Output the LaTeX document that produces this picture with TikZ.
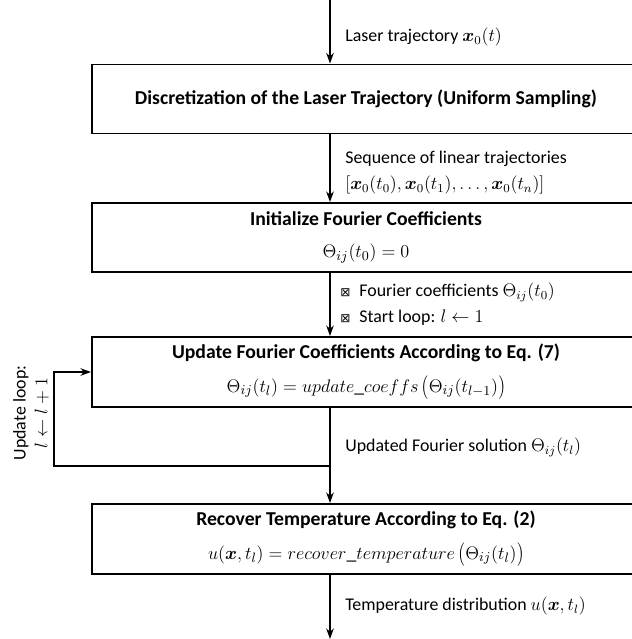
\documentclass[tikz,border=0pt]{standalone}
\usepackage{amsmath,bm,graphicx}
\usepackage{fontspec}
\setmainfont{Carlito}
\newfontfamily\symfont{DejaVu Sans}
\usetikzlibrary{arrows.meta, positioning, calc}
\newcommand{\px}{0.66pt}
\newcommand{\lpar}{\mathopen{\raisebox{-1.2pt}{\scalebox{1.05}[1.3]{$($}}}}
\newcommand{\rpar}{\mathclose{\raisebox{-1.2pt}{\scalebox{1.05}[1.3]{$)$}}}}

\begin{document}
\begin{tikzpicture}[x=0.66pt, y=-0.66pt,
    font=\fontsize{11.8}{14.5}\selectfont,
    arr/.style={line width=1pt, -{Stealth[length=7pt,width=5pt]}},
    stepbox/.style={draw, line width=1.3pt, minimum width=548*\px, minimum height=69*\px,
      align=center, inner sep=0pt, font=\fontsize{13}{21}\selectfont},
    lbl/.style={anchor=west, inner sep=0pt, align=left}]
  \useasboundingbox (0,0) rectangle (632,639);

  % Boxes
  \node[stepbox] (disc) at (366,99) {\textbf{Discretization of the Laser Trajectory (Uniform Sampling)}};
  \node[stepbox] (init) at (366,237.5) {\textbf{Initialize Fourier Coefficients}\\ $\Theta_{ij}(t_0)=0$};
  \node[stepbox, minimum height=70*\px] (upd) at (366,372) {\textbf{Update Fourier Coefficients According to Eq. (7)}\\[1pt] $\Theta_{ij}(t_l)=update\_coeffs\,\lpar\Theta_{ij}(t_{l-1})\rpar$};
  \node[stepbox, minimum height=70*\px] (rec) at (366,539) {\textbf{Recover Temperature According to Eq. (2)}\\[1pt] $u(\bm{x},t_l)=recover\_temperature\,\lpar\Theta_{ij}(t_l)\rpar$};

  % Main flow
  \coordinate (top) at (330,0);
  \coordinate (bot) at (330,639);
  \coordinate (lp) at (54,466);
  \draw[arr] (top) -- (top |- disc.north);
  \draw[arr] (top |- disc.south) -- (top |- init.north);
  \draw[arr] (top |- init.south) -- (top |- upd.north);
  \draw[arr] (top |- upd.south) -- (top |- rec.north);
  \draw[arr] (top |- rec.south) -- (bot);

  % Loop back
  \draw[arr] (top |- lp) -- (lp) |- (upd.west);
  \node[rotate=90, align=center] (loop) at (31,413) {Update loop:\\ $l\leftarrow l+1$};

  % Labels
  \node[lbl] (l1) at (345,37) {Laser trajectory $\bm{x}_0(t)$};
  \node[lbl] (l2) at (345,159) {Sequence of linear trajectories};
  \node[lbl] (l3) at (345,185) {$[\bm{x}_0(t_0),\bm{x}_0(t_1),\dots,\bm{x}_0(t_n)]$};
  \node[lbl] (l4) at (340,292) {{\symfont\fontsize{8}{10}\selectfont ⊠}\enspace Fourier coefficients $\Theta_{ij}(t_0)$};
  \node[lbl] (l5) at (340,318) {{\symfont\fontsize{8}{10}\selectfont ⊠}\enspace Start loop: $l\leftarrow 1$};
  \node[lbl] (l6) at (345,447) {Updated Fourier solution $\Theta_{ij}(t_l)$};
  \node[lbl] (l7) at (345,606) {Temperature distribution $u(\bm{x},t_l)$};
\end{tikzpicture}
\end{document}
